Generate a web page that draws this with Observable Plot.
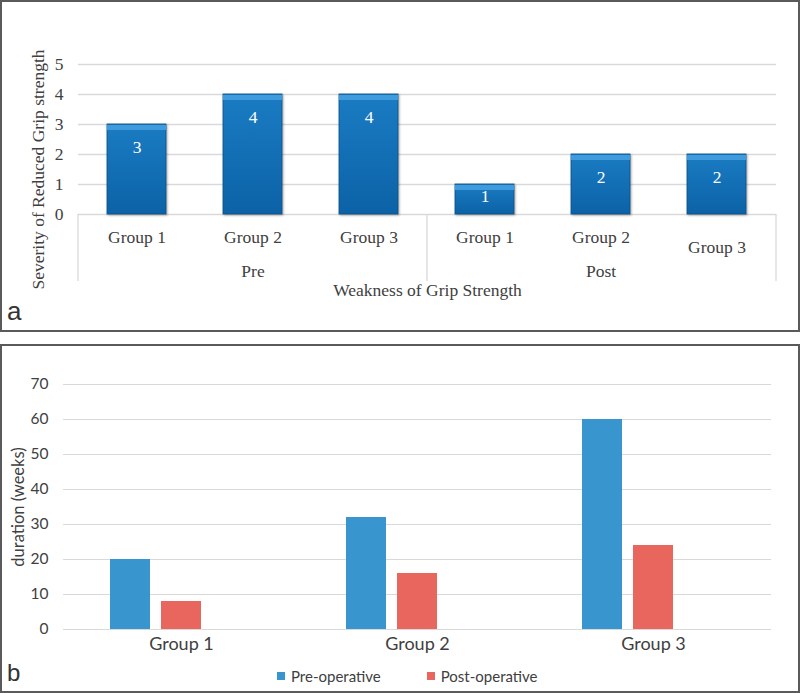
<!DOCTYPE html>
<html>
<head>
<meta charset="utf-8">
<script src="https://cdn.jsdelivr.net/npm/d3@7"></script>
<script src="https://cdn.jsdelivr.net/npm/@observablehq/plot@0.6"></script>
<style>
  html, body { margin: 0; padding: 0; background: #fff; }
  #root { position: relative; width: 800px; height: 693px; overflow: hidden; background: #fff; }
  .chart { position: absolute; left: 0; }
  .frame { position: absolute; left: 0; width: 800px; box-sizing: border-box; border: 2px solid #5a5a5a; pointer-events: none; }
  .tag { position: absolute; font-family: "Liberation Sans", Arial, sans-serif; color: #333; line-height: 1; }
  #legendB { position: absolute; left: 277px; top: 667px; height: 18px; display: flex; align-items: center;
             font-family: Lato, "Open Sans", sans-serif; font-size: 15px; color: #404040; }
  #legendB .item { display: flex; align-items: center; margin-right: 46px; }
  #legendB .sw { width: 8px; height: 8px; margin-right: 6px; }
</style>
</head>
<body>
<div id="root">
  <div id="chartA" class="chart" style="top:0"></div>
  <div id="chartB" class="chart" style="top:344px"></div>
  <div class="frame" style="top:0;height:332px"></div>
  <div class="frame" style="top:344px;height:349px"></div>
  <div class="tag" style="left:7px;top:298px;font-size:26px">a</div>
  <div class="tag" style="left:7px;top:661px;font-size:24px">b</div>
  <div id="legendB"></div>
</div>
<script>
// ---------- Data: panel a ----------
const phases = ["Pre", "Post"];
const groupsA = ["Group 1", "Group 2", "Group 3"];
const preSeverity = [3, 4, 4];
const postSeverity = [1, 2, 2];
const yTicksA = [0, 1, 2, 3, 4, 5];
const yTitleA = "Severity of Reduced Grip strength";
const xTitleA = "Weakness of Grip Strength";

// ---------- Data: panel b ----------
const groupsB = ["Group 1", "Group 2", "Group 3"];
const seriesB = ["Pre-operative", "Post-operative"];
const preDuration = [20, 32, 60];
const postDuration = [8, 16, 24];
const colorsB = ["#3995cd", "#e8665e"];
const yTicksB = [0, 10, 20, 30, 40, 50, 60, 70];
const yTitleB = "duration (weeks)";

// ---------- Panel a ----------
const seriesA = [preSeverity, postSeverity];
const rowsA = phases.flatMap((p, i) => groupsA.map((g, j) => ({
  phase: p, group: g, key: p + "|" + g, value: seriesA[i][j]
})));
const isOffsetLabel = d => d.phase === "Post" && d.group === "Group 3";

function separators(index, scales, values, dims) {
  const x0 = dims.marginLeft, x1 = dims.width - dims.marginRight;
  const y0 = scales.y(0);
  const g = d3.create("svg:g").attr("stroke", "#d9d9d9").attr("stroke-width", 1.3);
  [x0, (x0 + x1) / 2, x1].forEach(xv =>
    g.append("line").attr("x1", xv).attr("x2", xv).attr("y1", y0).attr("y2", y0 + 67));
  return g.node();
}

const chartA = Plot.plot({
  width: 800, height: 331,
  marginLeft: 78, marginRight: 24, marginTop: 64, marginBottom: 117,
  style: { fontFamily: "'Liberation Serif', 'Times New Roman', serif", fontSize: "17.5px", color: "#404040", background: "transparent", overflow: "visible" },
  x: { domain: rowsA.map(d => d.key), paddingInner: 0.49, paddingOuter: 0.245, axis: null },
  y: { domain: [0, 5], ticks: yTicksA, tickFormat: d => String(d), tickSize: 0, tickPadding: 15, label: null },
  marks: [
    Plot.ruleY(yTicksA, { stroke: "#d9d9d9", strokeWidth: 1.3 }),
    separators,
    Plot.barY(rowsA, { x: "key", y: "value", fill: "url(#barGradA)", stroke: "#0b5088", strokeWidth: 0.8 }),
    Plot.tickY(rowsA, { x: "key", y: "value", stroke: "#3f9bdb", strokeWidth: 5, dy: 3 }),
    Plot.text(rowsA.filter(d => d.value >= 2), { x: "key", y: "value", dy: 23, text: d => String(d.value), fill: "white" }),
    Plot.text(rowsA.filter(d => d.value < 2), { x: "key", y: "value", dy: 12, text: d => String(d.value), fill: "white" }),
    Plot.text(rowsA.filter(d => !isOffsetLabel(d)), { x: "key", y: 0, dy: 23, text: "group", fill: "#404040" }),
    Plot.text(rowsA.filter(isOffsetLabel), { x: "key", y: 0, dy: 33, text: "group", fill: "#404040" }),
    Plot.text(phases, { x: p => p + "|" + groupsA[1], y: 0, dy: 57, text: d => d, fill: "#404040" }),
    Plot.text([xTitleA], { frameAnchor: "bottom", textAnchor: "middle", dy: 81, text: d => d, fill: "#404040" }),
    Plot.text([yTitleA], { frameAnchor: "left", textAnchor: "middle", rotate: -90, dx: -40, dy: 30, text: d => d, fill: "#404040" })
  ]
});
document.getElementById("chartA").append(chartA);

const svgA = d3.select(chartA.tagName.toLowerCase() === "svg" ? chartA : chartA.querySelector("svg"));
const defs = svgA.insert("defs", ":first-child");
const grad = defs.append("linearGradient").attr("id", "barGradA")
  .attr("x1", 0).attr("x2", 0).attr("y1", 0).attr("y2", 1);
grad.append("stop").attr("offset", 0).attr("stop-color", "#1a7cc3");
grad.append("stop").attr("offset", 1).attr("stop-color", "#0c62a6");
svgA.selectAll('g[aria-label="bar"]').style("filter", "drop-shadow(1.5px 1.5px 1.2px rgba(0,0,0,0.35))");

// ---------- Panel b ----------
const durations = [preDuration, postDuration];
const rowsB = groupsB.flatMap((g, i) => seriesB.map((s, k) => ({ group: g, series: s, value: durations[k][i] })));

const chartB = Plot.plot({
  width: 800, height: 349,
  marginLeft: 62, marginRight: 29, marginTop: 40, marginBottom: 64,
  style: { fontFamily: "Lato, 'Open Sans', sans-serif", fontSize: "15.5px", color: "#404040", background: "transparent", overflow: "visible" },
  fx: { domain: groupsB, padding: 0, axis: null },
  x: { domain: [...seriesB, "none"], paddingInner: 0.21, paddingOuter: 0.877, axis: null },
  y: { domain: [0, 70], ticks: yTicksB, tickFormat: d => String(d), tickSize: 0, tickPadding: 15, label: null },
  color: { domain: seriesB, range: colorsB },
  marks: [
    Plot.ruleY(yTicksB, { stroke: "#d9d9d9", strokeWidth: 1.2 }),
    Plot.barY(rowsB, { fx: "group", x: "series", y: "value", fill: "series" }),
    Plot.text(groupsB, { fx: d => d, frameAnchor: "bottom", textAnchor: "middle", dy: 20, text: d => d, fontSize: 18, fill: "#404040" }),
    Plot.text([yTitleB], { fx: () => groupsB[0], frameAnchor: "left", textAnchor: "middle", rotate: -90, dx: -45, text: d => d, fontSize: 16.5, fill: "#404040" })
  ]
});
document.getElementById("chartB").append(chartB);

// legend
const legend = d3.select("#legendB");
seriesB.forEach((s, i) => {
  const item = legend.append("div").attr("class", "item");
  item.append("div").attr("class", "sw").style("background", colorsB[i]);
  item.append("span").text(s);
});
</script>
</body>
</html>
